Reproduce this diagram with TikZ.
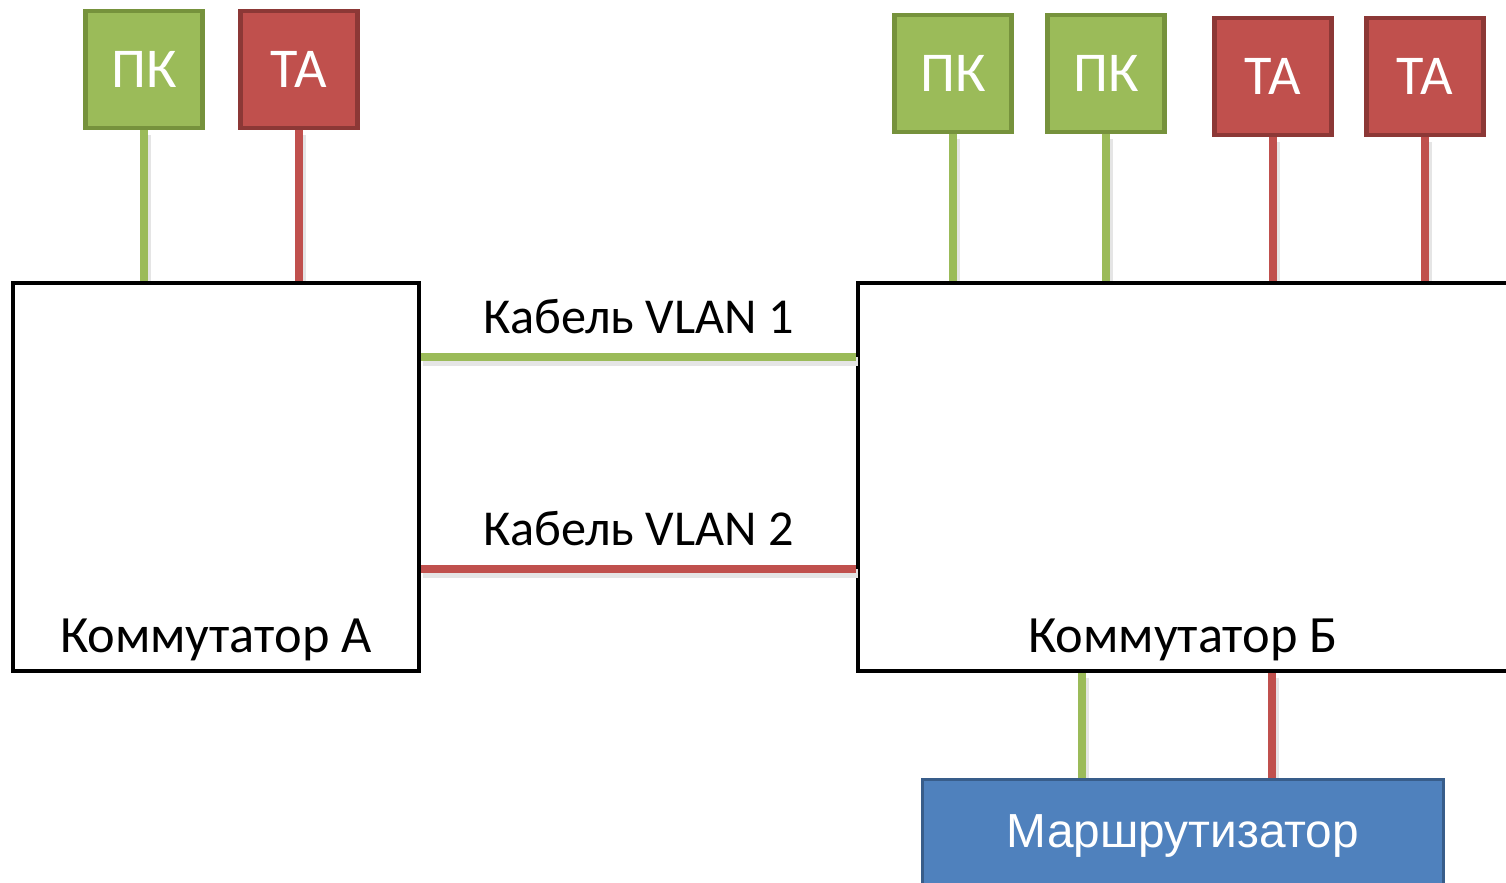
\documentclass[tikz,border=0pt]{standalone}
\usepackage{fontspec}
\setmainfont{Carlito}
\newfontfamily\routerfont{Liberation Sans}
\usepackage{tikz}
\usetikzlibrary{positioning, backgrounds}

\definecolor{pcgreen}{HTML}{9BBB59}
\definecolor{pcgreendark}{HTML}{76923C}
\definecolor{tared}{HTML}{C0504D}
\definecolor{tareddark}{HTML}{8C3836}
\definecolor{rtblue}{HTML}{4F81BD}
\definecolor{rtbluedark}{HTML}{385D8A}

\begin{document}
\begin{tikzpicture}[
  pcbox/.style={draw=pcgreendark, fill=pcgreen, line width=1.4pt, minimum size=1.17cm, inner sep=0pt, text=white, font=\fontsize{16}{18}\selectfont},
  tabox/.style={draw=tareddark, fill=tared, line width=1.4pt, minimum size=1.17cm, inner sep=0pt, text=white, font=\fontsize{16}{18}\selectfont},
  switch/.style={draw=black, fill=white, line width=1.15pt, minimum width=4.06cm, minimum height=3.88cm, inner sep=0pt},
  router/.style={draw=rtbluedark, fill=rtblue, line width=0.85pt, minimum width=5.21cm, minimum height=1.2cm, inner sep=0pt},
  swlabel/.style={font=\fontsize{14.9}{17}\selectfont},
  cablelabel/.style={font=\fontsize{14.3}{17}\selectfont, anchor=base, yshift=0.24cm},
  cable/.style={line width=2.3pt, preaction={draw=black!10, line width=2.8pt, transform canvas={xshift=0.5pt, yshift=-1.3pt}}},
  vlangreen/.style={cable, draw=pcgreen},
  vlanred/.style={cable, draw=tared}
]
  \useasboundingbox (0,0) rectangle (15.06,8.82);
  \clip (0,0) rectangle (15.06,8.82);

  \node (swA) [switch] at (2.16,4.05) {};
  \node (swB) [switch, minimum width=6.82cm] at (11.99,4.05) {};
  \node (labA) [swlabel] at (2.16,2.42) {Коммутатор А};
  \node (labB) [swlabel] at (11.83,2.42) {Коммутатор Б};

  \node (pcA) [pcbox] at (1.44,8.125) {ПК};
  \node (taA) [tabox, right=0.33cm of pcA] {ТА};

  \node (pcB1) [pcbox] at (9.53,8.085) {ПК};
  \node (pcB2) [pcbox, right=0.31cm of pcB1] {ПК};
  \node (taB1) [tabox] at (12.73,8.055) {ТА};
  \node (taB2) [tabox, right=0.30cm of taB1] {ТА};

  \node (rt) [router] at (11.83,0.4225) {};
  \node (rtlab) [text=white, font=\routerfont\fontsize{13.6}{16}\selectfont] at (11.83,0.46) {Маршрутизатор};

  \coordinate (rtg) at (10.82,0);
  \coordinate (rtr) at (12.72,0);
  \coordinate (v1) at (0,5.25);
  \coordinate (v2) at (0,3.13);

  \begin{scope}[on background layer]
    \draw [vlangreen] (pcA) -- (pcA |- swA.north);
    \draw [vlanred] (taA) -- (taA |- swA.north);
    \draw [vlangreen] (pcB1) -- (pcB1 |- swB.north);
    \draw [vlangreen] (pcB2) -- (pcB2 |- swB.north);
    \draw [vlanred] (taB1) -- (taB1 |- swB.north);
    \draw [vlanred] (taB2) -- (taB2 |- swB.north);
    \draw [vlangreen] (rtg |- swB.south) -- (rtg |- rt.north);
    \draw [vlanred] (rtr |- swB.south) -- (rtr |- rt.north);
  \end{scope}

  \draw [vlangreen] (swA.east |- v1) -- (swB.west |- v1) node [midway, cablelabel] {Кабель VLAN 1};
  \draw [vlanred] (swA.east |- v2) -- (swB.west |- v2) node [midway, cablelabel] {Кабель VLAN 2};
\end{tikzpicture}
\end{document}
